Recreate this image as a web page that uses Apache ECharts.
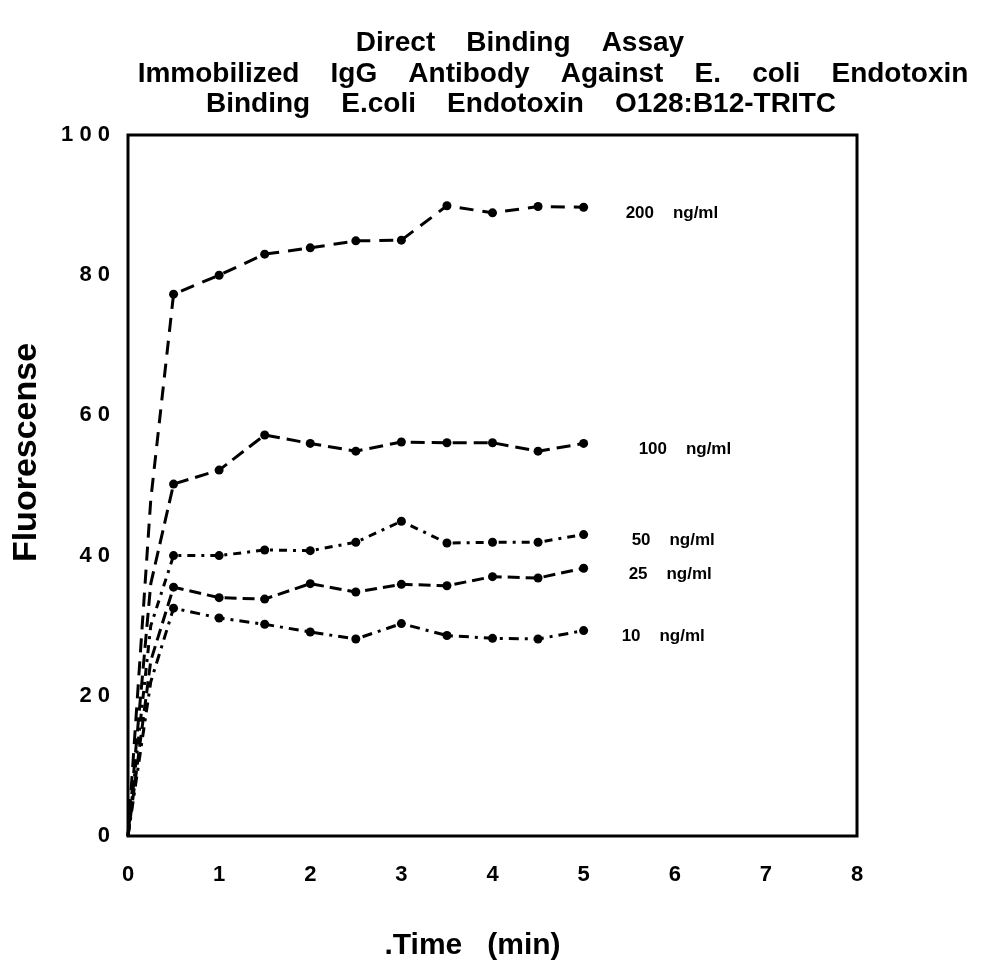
<!DOCTYPE html>
<html>
<head>
<meta charset="utf-8">
<script src="https://cdn.jsdelivr.net/npm/echarts@6/dist/echarts.min.js"></script>
<style>
    html, body { margin: 0; padding: 0; background: #fff; }
    #chart { width: 983px; height: 971px; }
</style>
</head>
<body>
<div id="chart"></div>
<script>
// -------------------------------------------------
// data
// -------------------------------------------------
const times = [0, 0.25, 0.5, 1, 1.5, 2, 2.5, 3, 3.5, 4, 4.5, 5];

const conc200 = [0, 48, 77.3, 80.0, 83.0, 83.9, 84.9, 85.0, 89.9, 88.9, 89.8, 89.7];
const conc100 = [0, 36, 50.2, 52.2, 57.2, 56.0, 54.9, 56.2, 56.1, 56.1, 54.9, 56.0];
const conc50 = [0, 30, 40.0, 40.0, 40.8, 40.7, 41.9, 44.9, 41.8, 41.9, 41.9, 43.0];
const conc25 = [0, 25, 35.5, 34.0, 33.8, 36.0, 34.8, 35.9, 35.7, 37.0, 36.8, 38.2];
const conc10 = [0, 22, 32.5, 31.1, 30.2, 29.1, 28.1, 30.3, 28.6, 28.2, 28.1, 29.3];

const seriesNames = ["200    ng/ml", "100    ng/ml", "50    ng/ml", "25    ng/ml", "10    ng/ml"];

const xTicks = ["0", "1", "2", "3", "4", "5", "6", "7", "8"];
const yTicks = ["0", "2 0", "4 0", "6 0", "8 0", "1 0 0"];

const FONT = "'Liberation Sans', Arial, sans-serif";

function toPairs(values) {
    return values.map(function (v, i) {
        const item = { value: [times[i], v] };
        if (times[i] < 0.5) item.symbol = "none";
        return item;
    });
}

function makeSeries(name, values, dash, labelGap) {
    return {
        name: name,
        type: "line",
        data: toPairs(values),
        symbol: "circle",
        symbolSize: 9,
        itemStyle: { color: "#000" },
        lineStyle: { color: "#000", width: 3, type: dash },
        endLabel: {
            show: true,
            formatter: name,
            distance: labelGap,
            offset: [0, 6],
            color: "#000",
            fontFamily: FONT,
            fontWeight: "bold",
            fontSize: 17
        },
        animation: false
    };
}

const chart = echarts.init(document.getElementById("chart"));

const titleStyle = { fontFamily: FONT, fontWeight: "bold", fontSize: 28, color: "#000" };

chart.setOption({
    backgroundColor: "#fff",
    title: [
        { text: "Direct    Binding    Assay", left: 515, top: 24, textAlign: "center", textStyle: titleStyle },
        { text: "Immobilized    IgG    Antibody    Against    E.    coli    Endotoxin", left: 548, top: 55, textAlign: "center", textStyle: titleStyle },
        { text: "Binding    E.coli    Endotoxin    O128:B12-TRITC", left: 516, top: 85, textAlign: "center", textStyle: titleStyle }
    ],
    grid: {
        left: 128,
        right: 126,
        top: 135,
        bottom: 135,
        outerBoundsMode: "none",
        show: true,
        borderColor: "#000",
        borderWidth: 3
    },
    xAxis: {
        type: "value",
        min: 0,
        max: 8,
        interval: 1,
        name: ".Time   (min)",
        nameLocation: "middle",
        nameGap: 95,
        nameTextStyle: { fontFamily: FONT, fontWeight: "bold", fontSize: 30, color: "#000", padding: [0, 40, 0, 0] },
        axisLine: { show: false },
        axisTick: { show: false },
        splitLine: { show: false },
        axisLabel: {
            margin: 28,
            color: "#000",
            fontFamily: FONT,
            fontWeight: "bold",
            fontSize: 22,
            formatter: function (v) { return xTicks[v]; }
        }
    },
    yAxis: {
        type: "value",
        min: 0,
        max: 100,
        interval: 20,
        name: "Fluorescense",
        nameLocation: "middle",
        nameGap: 84,
        nameRotate: 90,
        nameTextStyle: { fontFamily: FONT, fontWeight: "bold", fontSize: 34, color: "#000", padding: [0, 0, 0, 66] },
        axisLine: { show: false },
        axisTick: { show: false },
        splitLine: { show: false },
        axisLabel: {
            margin: 18,
            color: "#000",
            fontFamily: FONT,
            fontWeight: "bold",
            fontSize: 22,
            formatter: function (v) { return yTicks[v / 20]; }
        }
    },
    series: [
        makeSeries(seriesNames[0], conc200, [14, 9], 42),
        makeSeries(seriesNames[1], conc100, [14, 7], 55),
        makeSeries(seriesNames[2], conc50, [8, 6, 3, 6], 48),
        makeSeries(seriesNames[3], conc25, [12, 6], 45),
        makeSeries(seriesNames[4], conc10, [10, 6, 3, 6], 38)
    ]
});
</script>
</body>
</html>
